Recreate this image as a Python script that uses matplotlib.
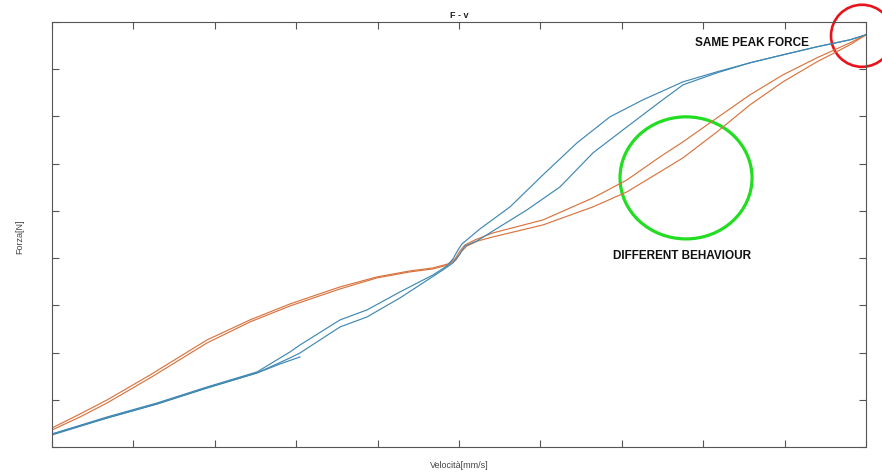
import matplotlib
matplotlib.use("Agg")
import matplotlib.pyplot as plt
from matplotlib.patches import Ellipse

# curves (velocity, force), arbitrary units
blue_a_v = [-5.0, -4.324, -3.710, -3.096, -2.482, -2.076, -1.953, -1.462, -1.130, -0.725, -0.319, -0.147, -0.074, -0.012,
            0.037, 0.258, 0.627, 1.032, 1.450, 1.855, 2.260, 2.752, 3.170, 3.575, 3.980, 4.398, 4.803, 5.0]
blue_a_f = [-3.725, -3.364, -3.068, -2.729, -2.411, -1.987, -1.839, -1.309, -1.097, -0.716, -0.356, -0.165, -0.017, 0.174,
            0.301, 0.619, 1.085, 1.763, 2.441, 2.992, 3.352, 3.733, 3.945, 4.136, 4.305, 4.475, 4.623, 4.729]

blue_b_v = [-5.0, -4.324, -3.710, -3.096, -2.482, -2.076, -1.953, -1.462, -1.130, -0.725, -0.197, -0.074, 0.012, 0.074,
            0.221, 0.418, 0.835, 1.241, 1.646, 2.064, 2.469, 2.752, 3.170, 3.575, 3.980, 4.398, 4.803, 5.0]
blue_b_f = [-3.725, -3.386, -3.089, -2.750, -2.432, -2.114, -2.008, -1.458, -1.246, -0.843, -0.250, -0.102, 0.089, 0.258,
            0.364, 0.576, 1.021, 1.508, 2.229, 2.780, 3.309, 3.669, 3.924, 4.136, 4.305, 4.475, 4.623, 4.729]

blue_c_v = [-5.0, -4.324, -3.710, -3.096, -2.482, -2.199, -1.953]
blue_c_f = [-3.746, -3.386, -3.089, -2.750, -2.432, -2.242, -2.093]

orange_a_v = [-5.0, -4.656, -4.324, -3.796, -3.096, -2.568, -2.076, -1.462, -1.007, -0.602, -0.319, -0.135, -0.049, 0.012,
              0.074, 0.197, 0.418, 1.032, 1.646, 2.064, 2.469, 2.752, 3.170, 3.575, 3.980, 4.398, 4.803, 5.0]
orange_a_f = [-3.597, -3.301, -3.004, -2.475, -1.733, -1.309, -0.970, -0.610, -0.398, -0.271, -0.208, -0.123, -0.017, 0.153,
              0.280, 0.386, 0.534, 0.809, 1.275, 1.657, 2.144, 2.462, 2.970, 3.458, 3.881, 4.242, 4.559, 4.729]

orange_b_v = [-5.0, -4.656, -4.324, -3.796, -3.096, -2.568, -2.076, -1.462, -1.007, -0.602, -0.319, -0.135, -0.037, 0.025,
              0.098, 0.233, 0.418, 1.032, 1.646, 2.064, 2.469, 2.752, 3.170, 3.575, 3.980, 4.398, 4.803, 5.0]
orange_b_f = [-3.640, -3.364, -3.068, -2.538, -1.797, -1.352, -1.013, -0.653, -0.419, -0.292, -0.229, -0.144, -0.038, 0.131,
              0.258, 0.364, 0.449, 0.703, 1.085, 1.403, 1.826, 2.123, 2.674, 3.246, 3.733, 4.157, 4.517, 4.729]

x_ticks = [-5, -4, -3, -2, -1, 0, 1, 2, 3, 4, 5]
y_ticks = [-4, -3, -2, -1, 0, 1, 2, 3, 4, 5]

blue = '#3f88b3'
orange = '#d9743f'
grey = '#555555'

plt.rcParams['font.family'] = ['Liberation Sans', 'DejaVu Sans']

fig = plt.figure(figsize=(8.82, 4.76), dpi=100)
ax = fig.add_axes([52 / 882, 29 / 476, 814 / 882, 425 / 476])

ax.plot(orange_a_v, orange_a_f, color=orange, lw=0.85)
ax.plot(orange_b_v, orange_b_f, color=orange, lw=0.85)
ax.plot(blue_a_v, blue_a_f, color=blue, lw=0.85)
ax.plot(blue_b_v, blue_b_f, color=blue, lw=0.85)
ax.plot(blue_c_v, blue_c_f, color=blue, lw=0.85)

ax.set_xlim(x_ticks[0], x_ticks[-1])
ax.set_ylim(y_ticks[0], y_ticks[-1])
ax.set_xticks(x_ticks)
ax.set_yticks(y_ticks)
ax.set_xticklabels([])
ax.set_yticklabels([])
ax.tick_params(direction='in', length=5, width=0.8, color=grey, top=True, right=True)
for s in ax.spines.values():
    s.set_color(grey)
    s.set_linewidth(0.8)

ax.set_title('F - v', fontsize=6.5, fontweight='bold', pad=3, color='#222222')
fig.text(459 / 882, 1 - 466 / 476, 'Velocità[mm/s]', fontsize=6.5, color='#444444', ha='center', va='center')
fig.text(20 / 882, 1 - 237 / 476, 'Forza[N]', fontsize=6.5, color='#444444', ha='center', va='center', rotation=90)

# hand-drawn style highlights
ax.add_patch(Ellipse((4.951, 4.708), 0.762, 1.314, fill=False, ec='#e8141b', lw=1.9, clip_on=False))
ax.add_patch(Ellipse((2.789, 1.699), 1.622, 2.585, fill=False, ec='#22dd22', lw=2.3, clip_on=False))

ax.text(3.60, 4.559, 'SAME PEAK FORCE', fontsize=8.5, fontweight='bold', ha='center', va='center', color='#111111')
ax.text(2.74, 0.047, 'DIFFERENT BEHAVIOUR', fontsize=8.5, fontweight='bold', ha='center', va='center', color='#111111')

fig.savefig('out.png', dpi=100)
